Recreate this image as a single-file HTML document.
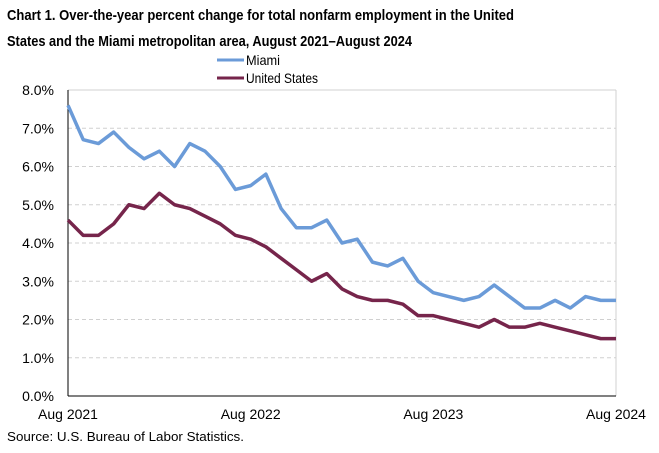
<!DOCTYPE html>
<html><head><meta charset="utf-8"><style>
body{margin:0;background:#fff;width:659px;height:448px;overflow:hidden}
svg{font-family:"Liberation Sans",Arial,sans-serif}
</style></head><body>
<svg id="chart" width="659" height="448" xmlns="http://www.w3.org/2000/svg">
<text x="7" y="20" font-size="15" font-weight="bold" textLength="507" lengthAdjust="spacingAndGlyphs">Chart 1. Over-the-year percent change for total nonfarm employment in the United</text>
<text x="7" y="46" font-size="15" font-weight="bold" textLength="405" lengthAdjust="spacingAndGlyphs">States and the Miami metropolitan area, August 2021–August 2024</text>
<g>
<g><line x1="217" y1="60" x2="244" y2="60" stroke="#6b9bd8" stroke-width="3"/><text x="246" y="65" font-size="14" textLength="34" lengthAdjust="spacingAndGlyphs">Miami</text></g>
<g><line x1="217" y1="78" x2="244" y2="78" stroke="#76254b" stroke-width="3"/><text x="246" y="83" font-size="14" textLength="72" lengthAdjust="spacingAndGlyphs">United States</text></g>
</g>
<g id="grid"></g><g id="axes"></g><g id="series"></g>
<text x="7" y="441" font-size="12.5" textLength="237" lengthAdjust="spacingAndGlyphs">Source: U.S. Bureau of Labor Statistics.</text>
</svg>
<script>
const miami=[7.6,6.7,6.6,6.9,6.5,6.2,6.4,6.0,6.6,6.4,6.0,5.4,5.5,5.8,4.9,4.4,4.4,4.6,4.0,4.1,3.5,3.4,3.6,3.0,2.7,2.6,2.5,2.6,2.9,2.6,2.3,2.3,2.5,2.3,2.6,2.5,2.5];
const us=[4.6,4.2,4.2,4.5,5.0,4.9,5.3,5.0,4.9,4.7,4.5,4.2,4.1,3.9,3.6,3.3,3.0,3.2,2.8,2.6,2.5,2.5,2.4,2.1,2.1,2.0,1.9,1.8,2.0,1.8,1.8,1.9,1.8,1.7,1.6,1.5,1.5];
const yTicks=[0,1,2,3,4,5,6,7,8];
const xLabels=[[0,"Aug 2021"],[12,"Aug 2022"],[24,"Aug 2023"],[36,"Aug 2024"]];
const L=68,R=616,T=90,B=396,N=36,YMAX=8;
const xs=i=>L+(R-L)*i/N, ys=v=>B-(B-T)*v/YMAX;
const NS="http://www.w3.org/2000/svg";
function mk(tag,attrs,parent){const e=document.createElementNS(NS,tag);for(const k in attrs)e.setAttribute(k,attrs[k]);document.getElementById(parent).appendChild(e);return e;}
yTicks.forEach(v=>{
  if(v>0){const g=mk('line',{x1:L,x2:R,y1:ys(v),y2:ys(v),stroke:'#d0d0d0','stroke-dasharray':'4,3'},'grid');
  
  }
  const t=mk('text',{x:L-14,y:ys(v)+5,'font-size':14,'text-anchor':'end'},'axes');
  
  
  t.textContent=v.toFixed(1)+'%';
});
const rb=mk('line',{x1:R,x2:R,y1:T,y2:B,stroke:'#d0d0d0'},'axes');


const tb=mk('line',{x1:L,x2:R,y1:T,y2:T,stroke:'#d0d0d0'},'axes');


const ya=mk('line',{x1:L,x2:L,y1:T,y2:B,stroke:'#000'},'axes');


const xa=mk('line',{x1:L,x2:R,y1:B,y2:B,stroke:'#000'},'axes');


xLabels.forEach(([i,s])=>{
  const t=mk('text',{x:xs(i),y:B+23,'font-size':14,'text-anchor':'middle'},'axes');
  
  
  t.textContent=s;
});
function line(data,color,name){
  const p=mk('polyline',{points:data.map((v,i)=>xs(i)+','+ys(v)).join(' '),fill:'none',stroke:color,'stroke-width':3.5,'stroke-linejoin':'round'},'series');
  
  
}
line(us,'#76254b','us-line');
line(miami,'#6b9bd8','miami-line');
</script>
</body></html>
